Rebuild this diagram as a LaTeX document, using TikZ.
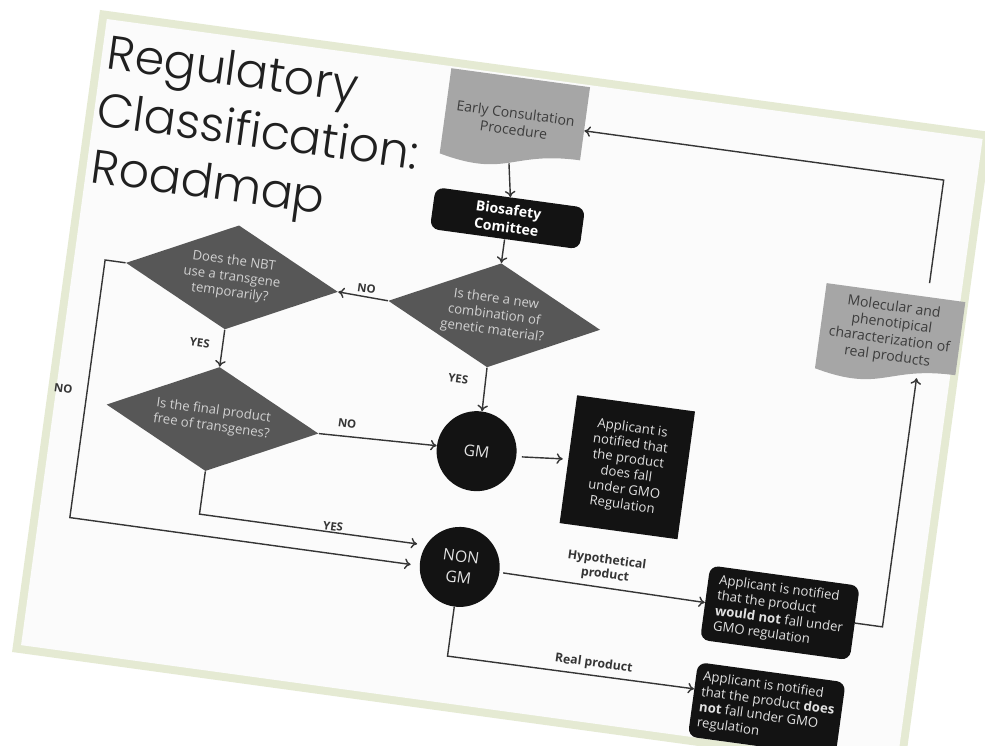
\documentclass[tikz,border=0pt]{standalone}
\usepackage{fontspec}
\setmainfont{Open Sans}
\newfontfamily\titlefont{Poppins}[UprightFont=* Light]
\usetikzlibrary{shapes.geometric,arrows.meta}

\definecolor{slideedge}{HTML}{E5EAD3}
\definecolor{slideface}{HTML}{FBFBFB}
\definecolor{docfill}{HTML}{A6A6A6}
\definecolor{doctext}{HTML}{3C3C3C}
\definecolor{dfill}{HTML}{575757}
\definecolor{dtext}{HTML}{D2D2D2}
\definecolor{nblack}{HTML}{131313}
\definecolor{btext}{HTML}{E2E2E2}
\definecolor{lgray}{HTML}{353535}
\definecolor{titlegray}{HTML}{202020}

\begin{document}
\begin{tikzpicture}[x=0.02cm,y=-0.02cm,
  title/.style={font=\titlefont\fontsize{27}{32}\selectfont,text=titlegray,anchor=base west,inner sep=0pt},
  doc/.style={minimum width=2.8cm,minimum height=1.68cm,inner sep=0pt,align=center,text=doctext,font=\fontsize{8}{9.5}\selectfont},
  decision/.style={diamond,aspect=2,minimum width=4.28cm,minimum height=2.1cm,inner sep=0pt,fill=dfill,text=dtext,align=center,font=\fontsize{7.5}{9}\selectfont},
  terminal/.style={circle,minimum size=1.6cm,inner sep=0pt,fill=nblack,text=btext,align=center,font=\fontsize{9}{12}\selectfont},
  notice/.style={rectangle,fill=nblack,text=btext,inner sep=0pt,font=\fontsize{7.5}{8.8}\selectfont},
  lbl/.style={text=lgray,inner sep=1pt,font=\bfseries\fontsize{6.5}{8}\selectfont},
  flow/.style={->,>={To[length=3.5pt,width=6pt]},draw=lgray,line width=0.8pt}]
\useasboundingbox (0,0) rectangle (985,746);
\clip (0,0) rectangle (985,746);
\fill[white] (0,0) rectangle (985,746);

\begin{scope}[shift={(100,10)},rotate=-7.8,transform shape]
\fill[slideedge] (0,0) rectangle (900,648);
\fill[slideface] (8,8) rectangle (892,640);

\node[title](t1) at (13,57) {Regulatory};
\node[title](t2) at (11,115) {Classification:};
\node[title](t3) at (13,172) {Roadmap};

\fill[docfill] (356,10) -- (496,10) -- (496,83.8) .. controls (426,83.8) and (426,111.8) .. (356,95.9) -- cycle;
\fill[docfill] (757,172) -- (897,172) -- (897,245.8) .. controls (827,245.8) and (827,273.8) .. (757,257.9) -- cycle;

\node[doc](ec) at (426,54) {Early Consultation\\Procedure};
\node[doc](mol) at (827,212) {Molecular and\\phenotipical\\characterization of\\real products};
\node[notice,rounded corners=5pt,minimum width=3.02cm,minimum height=0.84cm,align=center,text=white,font=\bfseries\fontsize{8}{10}\selectfont](bio) at (432,151) {Biosafety\\Comittee};

\node[decision](d1) at (432,249) {Is there a new\\combination of\\genetic material?};
\node[decision](d2) at (167,247) {Does the NBT\\use a transgene\\temporarily?};
\node[decision](d3) at (167,390) {Is the final product\\free of transgenes?};

\node[terminal](gm) at (433,386) {GM};
\node[terminal](nongm) at (432,503) {NON\\GM};

\node[notice,minimum width=2.38cm,minimum height=2.58cm,align=center](gmbox) at (584.5,381.5) {Applicant is\\notified that\\the product\\does fall\\under GMO\\Regulation};
\node[notice,rounded corners=5pt,minimum width=3.02cm,minimum height=1.5cm,align=left](hypbox) at (755.5,505) {Applicant is notified\\that the product\\\textbf{would not} fall under\\GMO regulation};
\node[notice,rounded corners=5pt,minimum width=2.98cm,minimum height=1.5cm,align=left](realbox) at (755.5,602.5) {Applicant is notified\\that the product \textbf{does}\\\textbf{not} fall under GMO\\regulation};

\coordinate (c1) at (39,247);
\coordinate (c2) at (39,507);
\coordinate (c3) at (167,486);
\coordinate (c4) at (432,593);
\coordinate (c5) at (859,505);
\coordinate (c6) at (859,254);
\coordinate (c7) at (859,158);
\coordinate (c8) at (859,54);

\draw[flow] (ec.south) -- (bio.north);
\draw[flow] (bio.south) -- (d1.north);
\draw[flow] (d1.west) -- (d2.east);
\draw[flow] (d2.south) -- (d3.north);
\draw[flow] (d1.south) -- (gm.north);
\draw[flow] (d3.east) -- (gm.west);
\draw[flow,shorten >=5pt] (d2.west) -- (c1) -- (c2) -- (nongm.186);
\draw[flow,shorten >=5pt] (d3.south) -- (c3) -- (nongm.155);
\draw[flow,shorten <=3pt,shorten >=3pt] (gm.east) -- (gmbox.west);
\draw[flow,shorten <=2pt] (nongm.east) -- (hypbox.west);
\draw[flow] (nongm.south) -- (c4) -- (realbox.172);
\draw[flow] (hypbox.east) -- (c5) -- (c6);
\draw[flow] (c7) -- (c8) -- (ec.east);

\node[lbl](lno1) at (302,240) {NO};
\node[lbl](lyes1) at (144,316) {YES};
\node[lbl](lyes2) at (405,317) {YES};
\node[lbl](lno2) at (301,376) {NO};
\node[lbl](lno3) at (15,380) {NO};
\node[lbl](lyes3) at (301,480) {YES};
\node[lbl,align=center,font=\bfseries\fontsize{7}{8.5}\selectfont](lhyp) at (577,484) {Hypothetical\\product};
\node[lbl,font=\bfseries\fontsize{7}{8.5}\selectfont](lreal) at (578,581) {Real product};
\end{scope}
\end{tikzpicture}
\end{document}
